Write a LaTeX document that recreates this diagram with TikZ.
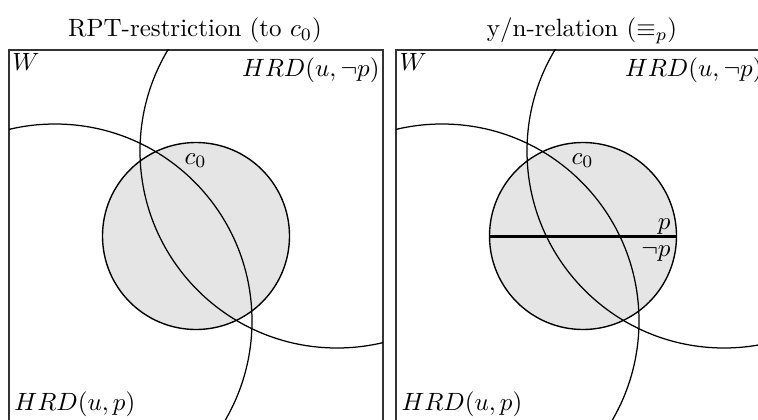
\documentclass[tikz,border=0pt]{standalone}
\usepackage{amsmath,amssymb}
\begin{document}
\begin{tikzpicture}[x=0.4pt,y=-0.4pt,
  frame/.style={draw=black!80,line width=0.55pt},
  bigcirc/.style={draw=black,line width=0.5pt},
  cell/.style={fill=black!10},
  celledge/.style={draw=black,line width=0.55pt},
  split/.style={draw=black,line width=1.2pt},
  lbl/.style={inner sep=0pt}]
\useasboundingbox (0,0) rectangle (758,419);
\clip (0,0) rectangle (758,419);
\foreach \dx/\nm in {0/L,387/R}{
  \begin{scope}[shift={(\dx,0)}]
    \fill[cell] (196,236) circle [radius=93.5];
    \draw[frame] (9,50) rectangle (383,422);
    \begin{scope}
      \clip (9,50) rectangle (383,422);
      \draw[bigcirc] (337,151) circle [radius=197];
      \draw[bigcirc] (55,321) circle [radius=197];
    \end{scope}
    \draw[celledge] (196,236) circle [radius=93.5];
    \node[lbl,anchor=base west] (W\nm) at (12,71) {$W$};
    \node[lbl,anchor=base west] (HP\nm) at (14,410) {$HRD(u,p)$};
    \node[lbl,anchor=base west] (C\nm) at (184,164) {$c_0$};
  \end{scope}
}
\node[lbl,anchor=base east] (HNL) at (380,77) {$HRD(u,\neg p)$};
\node[lbl,anchor=base east] (HNR) at (763,77) {$HRD(u,\neg p)$};
\node[lbl,anchor=base] (T1) at (195,37) {RPT-restriction (to $c_0$)};
\node[lbl,anchor=base] (T2) at (582,37) {y/n-relation ($\equiv_p$)};
\coordinate (SL) at (489.5,236);
\coordinate (SR) at (676.5,236);
\draw[split] (SL) -- (SR);
\node[lbl,anchor=base east] (P) at (671,229) {$p$};
\node[lbl,anchor=base east] (NP) at (671,256) {$\neg p$};
\end{tikzpicture}
\end{document}
